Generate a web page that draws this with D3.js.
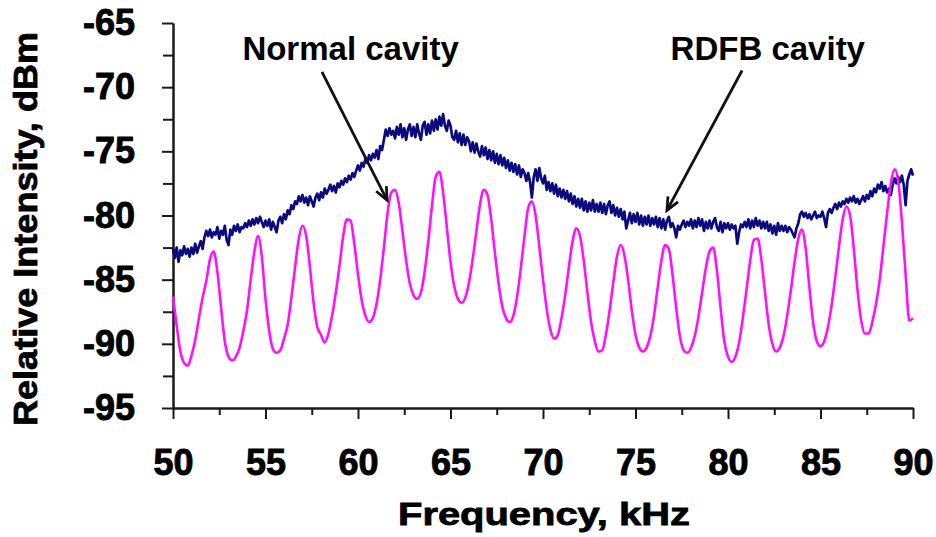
<!DOCTYPE html>
<html>
<head>
<meta charset="utf-8">
<script src="https://cdn.jsdelivr.net/npm/d3@7"></script>
<style>
  body { margin: 0; background: #fff; }
  svg text { font-family: "Liberation Sans", Arial, sans-serif; font-weight: bold; fill: #000; }
</style>
</head>
<body>
<svg id="spectrum" width="936" height="537"></svg>
<script>
// sampling of the two traces (kHz)
const freqStart = 50;
const rdfbStep = 0.1;
const normalStep = 0.2;

// RDFB cavity trace, dBm, 50.0 .. 90.0 kHz every 0.1 kHz
const rdfbCavity = [
  -82.6, -83.3, -82.5, -83.6, -82.7, -83.1, -82.4, -83.0, -82.6, -83.2,
  -82.5, -83.0, -82.2, -82.9, -82.4, -82.0, -82.6, -81.7, -81.2, -81.6,
  -81.1, -81.7, -81.3, -81.5, -80.9, -81.8, -81.2, -81.5, -80.8, -81.9,
  -82.3, -81.1, -81.5, -80.8, -81.2, -80.7, -81.3, -80.9, -81.0, -80.6,
  -80.9, -80.4, -80.8, -80.3, -80.7, -80.2, -80.6, -80.1, -80.5, -80.9,
  -80.4, -80.8, -80.3, -81.1, -80.5, -80.9, -81.3, -80.4, -80.1, -80.6,
  -79.9, -80.3, -79.6, -79.9, -79.2, -79.5, -78.9, -79.1, -78.5, -78.9,
  -78.4, -79.0, -78.6, -79.2, -78.5, -78.9, -79.3, -78.6, -78.3, -78.8,
  -78.2, -78.6, -77.9, -78.3, -78.0, -77.6, -78.1, -77.7, -78.2, -77.5,
  -77.8, -77.3, -77.6, -77.1, -77.4, -76.9, -77.2, -76.7, -77.0, -76.5,
  -76.1, -76.5, -75.9, -76.2, -75.6, -75.9, -75.3, -75.7, -75.2, -75.5,
  -74.9, -75.6, -74.6, -74.9, -74.1, -73.3, -73.8, -73.2, -73.7, -73.4,
  -74.0, -73.1, -73.7, -72.9, -73.9, -73.2, -74.1, -73.3, -72.9, -73.8,
  -73.1, -73.9, -72.9, -73.6, -74.1, -73.0, -72.7, -73.7, -72.9, -73.6,
  -72.6, -73.4, -72.5, -73.3, -72.3, -73.0, -72.1, -73.0, -73.4, -72.6,
  -73.0, -73.9, -74.1, -73.4, -74.3, -73.6, -74.5, -73.7, -74.5, -73.9,
  -74.2, -75.0, -74.3, -75.1, -74.4, -75.0, -75.4, -74.6, -75.3, -74.7,
  -75.6, -74.9, -75.7, -75.0, -75.9, -75.2, -76.0, -75.3, -76.1, -75.5,
  -76.3, -75.7, -76.5, -75.9, -76.6, -76.0, -76.8, -76.1, -77.0, -76.4,
  -76.7, -77.3, -76.7, -77.4, -78.6, -77.0, -76.4, -77.3, -76.3, -77.1,
  -77.5, -76.9, -78.0, -77.4, -78.1, -77.5, -78.3, -77.6, -78.5, -77.9,
  -78.6, -78.0, -78.7, -78.1, -78.9, -78.3, -79.1, -78.5, -79.3, -78.7,
  -79.4, -78.7, -79.6, -78.9, -79.7, -79.0, -79.6, -78.8, -79.7, -79.1,
  -79.7, -79.0, -79.8, -79.1, -79.9, -79.2, -78.9, -79.8, -79.2, -80.0,
  -79.4, -80.1, -79.5, -80.3, -79.7, -81.0, -80.4, -79.8, -80.6, -79.9,
  -80.5, -79.8, -80.7, -80.0, -80.8, -80.1, -80.7, -80.0, -80.8, -80.2,
  -80.7, -80.1, -80.9, -80.2, -81.0, -80.3, -81.1, -80.4, -80.1, -80.9,
  -80.6, -81.0, -81.7, -80.8, -81.1, -80.7, -80.4, -80.9, -80.5, -80.8,
  -80.3, -81.0, -80.4, -80.9, -80.2, -80.8, -80.3, -81.2, -80.5, -81.0,
  -80.4, -81.0, -80.5, -80.2, -80.9, -81.2, -80.5, -81.3, -80.6, -81.0,
  -80.6, -81.1, -80.7, -81.0, -80.8, -82.2, -81.3, -80.7, -80.9, -80.5,
  -80.9, -80.3, -81.0, -80.4, -80.9, -80.2, -80.8, -80.4, -81.0, -80.5,
  -81.0, -80.5, -81.2, -80.7, -81.4, -80.8, -81.5, -80.6, -81.2, -80.8,
  -81.2, -80.8, -81.3, -80.9, -81.1, -81.4, -81.7, -81.0, -80.6, -79.9,
  -79.7, -80.1, -79.8, -80.2, -79.9, -80.3, -80.0, -79.7, -80.2, -80.0,
  -80.1, -79.7, -80.2, -80.9, -79.8, -79.5, -79.8, -79.4, -79.1, -79.5,
  -79.0, -79.3, -78.9, -79.1, -78.7, -79.0, -78.6, -78.9, -78.5, -79.0,
  -78.7, -79.1, -78.8, -78.5, -78.9, -78.4, -78.7, -78.1, -78.5, -77.9,
  -78.2, -77.6, -77.9, -77.4, -78.1, -77.7, -78.2, -77.9, -78.4, -77.6,
  -77.1, -77.5, -77.0, -77.4, -76.9, -77.6, -79.2, -77.3, -76.8, -76.4,
  -76.9
];

// Normal cavity trace, dBm, 50.0 .. 90.0 kHz every 0.2 kHz
const normalCavity = [
  -86.3, -88.6, -90.6, -91.5, -91.7,
  -90.9, -89.7, -88.0, -86.4, -85.1,
  -83.4, -82.8, -84.4, -87.2, -89.8,
  -91.0, -91.3, -91.0, -90.3, -89.0,
  -87.4, -85.0, -82.8, -81.6, -83.2,
  -86.5, -89.0, -90.4, -90.7, -90.5,
  -89.6, -88.5, -86.4, -84.0, -81.8,
  -80.8, -81.6, -84.0, -86.8, -88.7,
  -89.3, -89.9, -89.2, -87.8, -86.0,
  -83.9, -81.6, -80.3, -80.4, -82.2,
  -84.6, -86.6, -87.8, -88.3, -88.0,
  -86.9, -85.0, -82.5, -79.8, -78.2,
  -78.0, -79.0, -81.2, -83.5, -85.3,
  -86.2, -86.5, -86.0, -84.4, -82.0,
  -79.2, -77.0, -76.6, -78.2, -80.9,
  -83.6, -85.5, -86.5, -86.8, -86.4,
  -85.2, -83.4, -81.2, -79.1, -78.0,
  -78.4, -80.3, -82.9, -85.3, -87.1,
  -88.0, -88.3, -87.8, -86.3, -84.1,
  -81.6, -79.4, -78.9, -80.0, -82.4,
  -85.0, -87.3, -88.9, -89.6, -89.3,
  -88.0, -86.2, -84.0, -82.0, -81.0,
  -81.6, -83.5, -86.0, -88.3, -89.8,
  -90.6, -90.5, -89.3, -87.4, -85.2,
  -83.2, -82.3, -83.1, -85.0, -87.4,
  -89.3, -90.3, -90.6, -90.3, -89.4,
  -87.8, -85.6, -83.5, -82.3, -82.6,
  -84.6, -87.2, -89.4, -90.5, -90.7,
  -90.3, -89.4, -87.9, -86.0, -84.1,
  -82.8, -82.5, -84.3, -87.2, -89.8,
  -91.0, -91.4, -91.0, -89.9, -88.0,
  -85.8, -83.5, -81.9, -81.8, -83.4,
  -86.0, -88.5, -90.0, -90.6, -90.3,
  -89.4, -87.8, -85.8, -83.6, -81.8,
  -81.1, -82.6, -85.6, -88.3, -89.8,
  -90.2, -89.8, -88.7, -87.0, -84.8,
  -82.4, -80.3, -79.3, -80.0, -82.6,
  -85.8, -88.2, -89.2, -89.2, -88.3,
  -86.9, -85.0, -82.4, -79.8, -77.5,
  -76.4, -77.3, -80.5, -84.6, -88.2,
  -88.0
];

const yTicks = [-95, -90, -85, -80, -75, -70, -65];
const yMinorTicks = [-92.5, -87.5, -82.5, -77.5, -72.5, -67.5];
const xTicks = [50, 55, 60, 65, 70, 75, 80, 85, 90];
const xMinorTicks = [52.5, 57.5, 62.5, 67.5, 72.5, 77.5, 82.5, 87.5];

// callouts: label text, label anchor (kHz, dBm), arrow start and tip (kHz, dBm)
const calloutNames = ["Normal cavity", "RDFB cavity"];
const calloutLabelAt = [[59.6, -67.9], [82.15, -67.9]];
const calloutFrom = [[58.05, -68.8], [80.76, -68.7]];
const calloutTo = [[61.57, -78.8], [76.7, -79.6]];

document.addEventListener('DOMContentLoaded', _ => {
  const svg = d3.select("svg#spectrum");
  const width = +svg.attr("width");
  const height = +svg.attr("height");
  const margins = { "top": 23, "right": 23, "bottom": 129, "left": 173 };
  const chartWidth = width - margins.left - margins.right;
  const chartHeight = height - margins.top - margins.bottom;

  const xScale = d3.scaleLinear().domain([50, 90]).range([0, chartWidth]);
  const yScale = d3.scaleLinear().domain([-95, -65]).range([chartHeight, 0]);

  const chart = svg.append("g").attr("transform", `translate(${margins.left},${margins.top})`);

  // minor ticks first, then labelled axes on top
  chart.append("g").attr("class", "x minor")
    .attr("transform", `translate(0,${chartHeight})`)
    .call(d3.axisBottom(xScale).tickValues(xMinorTicks).tickSize(7).tickSizeOuter(0).tickFormat(""));
  chart.append("g").attr("class", "y minor")
    .call(d3.axisLeft(yScale).tickValues(yMinorTicks).tickSize(10).tickSizeOuter(0).tickFormat(""));

  // plain hyphen for the negative labels, like the original
  chart.append("g").attr("class", "x axis")
    .attr("transform", `translate(0,${chartHeight})`)
    .call(d3.axisBottom(xScale).tickValues(xTicks).tickSize(11).tickSizeOuter(0).tickPadding(30).tickFormat(d => String(d)));
  chart.append("g").attr("class", "y axis")
    .call(d3.axisLeft(yScale).tickValues(yTicks).tickSize(11).tickSizeOuter(0).tickPadding(27).tickFormat(d => String(d)));

  chart.selectAll(".axis text")
    .style("font-size", "36px")
    .style("font-family", "'Liberation Sans', Arial, sans-serif")
    .style("font-weight", "bold")
    .attr("stroke", "#000")
    .attr("stroke-width", 0.9);
  chart.selectAll(".tick line, .domain").attr("stroke", "#1a1a1a").attr("stroke-width", 2);

  // traces
  const rdfbLine = d3.line()
    .x((d, i) => xScale(freqStart + i * rdfbStep))
    .y(d => yScale(d));
  const normalLine = d3.line()
    .curve(d3.curveMonotoneX)
    .x((d, i) => xScale(freqStart + i * normalStep))
    .y(d => yScale(d));

  chart.append("path").datum(rdfbCavity)
    .attr("d", rdfbLine)
    .attr("fill", "none")
    .attr("stroke", "#0a0a80")
    .attr("stroke-width", 2.7)
    .attr("stroke-linejoin", "round");
  chart.append("path").datum(normalCavity)
    .attr("d", normalLine)
    .attr("fill", "none")
    .attr("stroke", "#ff10ff")
    .attr("stroke-width", 2.6)
    .attr("stroke-linejoin", "round");

  // callout arrows
  calloutNames.forEach((name, i) => {
    const x0 = xScale(calloutFrom[i][0]), y0 = yScale(calloutFrom[i][1]);
    const x1 = xScale(calloutTo[i][0]), y1 = yScale(calloutTo[i][1]);
    const ang = Math.atan2(y1 - y0, x1 - x0);
    const head = 14, spread = 0.42;
    chart.append("line")
      .attr("x1", x0).attr("y1", y0).attr("x2", x1).attr("y2", y1)
      .attr("stroke", "#111").attr("stroke-width", 2.8);
    chart.append("path")
      .attr("d", `M${x1 - head * Math.cos(ang - spread)},${y1 - head * Math.sin(ang - spread)}L${x1},${y1}L${x1 - head * Math.cos(ang + spread)},${y1 - head * Math.sin(ang + spread)}`)
      .attr("fill", "none").attr("stroke", "#111").attr("stroke-width", 2.8)
      .attr("stroke-linejoin", "miter");
    chart.append("text")
      .text(name)
      .attr("x", xScale(calloutLabelAt[i][0]))
      .attr("y", yScale(calloutLabelAt[i][1]))
      .attr("text-anchor", "middle")
      .style("font-size", "33px");
  });

  // axis titles
  svg.append("text")
    .text("Frequency, kHz")
    .attr("x", 544)
    .attr("y", 525)
    .attr("text-anchor", "middle")
    .attr("textLength", 292)
    .attr("lengthAdjust", "spacingAndGlyphs")
    .attr("stroke", "#000")
    .attr("stroke-width", 0.8)
    .style("font-size", "32px");
  svg.append("text")
    .text("Relative Intensity, dBm")
    .attr("transform", "rotate(270,37,229)")
    .attr("x", 37)
    .attr("y", 229)
    .attr("text-anchor", "middle")
    .attr("textLength", 394)
    .attr("lengthAdjust", "spacingAndGlyphs")
    .attr("stroke", "#000")
    .attr("stroke-width", 0.8)
    .style("font-size", "33px");
});
</script>
</body>
</html>
